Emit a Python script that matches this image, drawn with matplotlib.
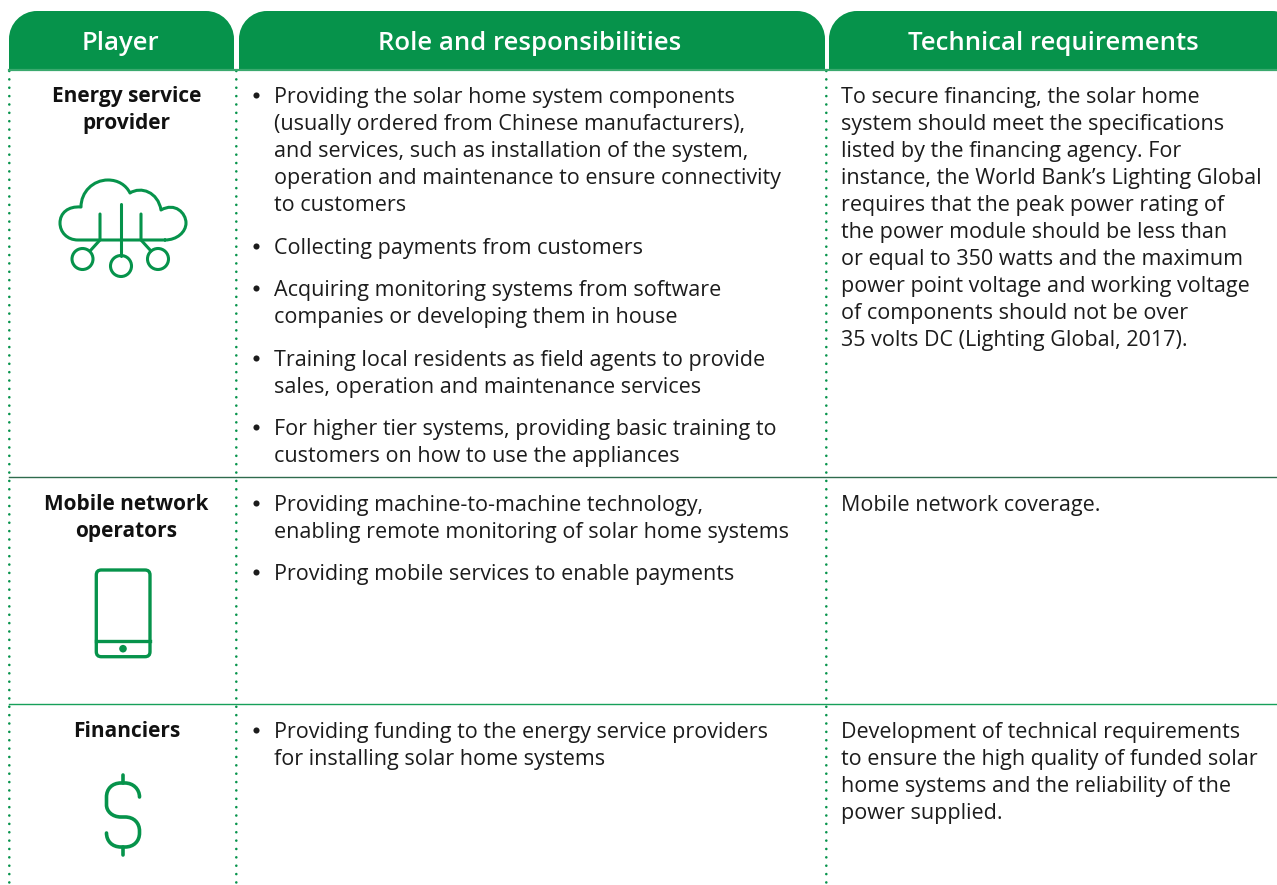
import numpy as np
import matplotlib
matplotlib.use('Agg')
import matplotlib.pyplot as plt
from matplotlib.patches import PathPatch, Circle, FancyBboxPatch
from matplotlib.path import Path

GREEN = '#06934b'
DARK = '#1c1c1c'
FONT = 'Open Sans'
BODY_SIZE = 15.5
BOLD_SIZE = 15.0
HEAD_SIZE = 18.5

headers = ['Player', 'Role and responsibilities', 'Technical requirements']
header_x = [120, 530, 1053]

players = ['Energy service\nprovider', 'Mobile network\noperators', 'Financiers']
player_y = [95, 503, 730]

# each role: (first line y, lines)
roles = [
    (95, ['Providing the solar home system components',
          '(usually ordered from Chinese manufacturers),',
          'and services, such as installation of the system,',
          'operation and maintenance to ensure connectivity',
          'to customers']),
    (246, ['Collecting payments from customers']),
    (288, ['Acquiring monitoring systems from software',
           'companies or developing them in house']),
    (358, ['Training local residents as field agents to provide',
           'sales, operation and maintenance services']),
    (427, ['For higher tier systems, providing basic training to',
           'customers on how to use the appliances']),
    (503, ['Providing machine-to-machine technology,',
           'enabling remote monitoring of solar home systems']),
    (572, ['Providing mobile services to enable payments']),
    (730, ['Providing funding to the energy service providers',
           'for installing solar home systems']),
]

requirements = [
    (95, ['To secure financing, the solar home',
          'system should meet the specifications',
          'listed by the financing agency. For',
          'instance, the World Bank\u2019s Lighting Global',
          'requires that the peak power rating of',
          'the power module should be less than',
          'or equal to 350 watts and the maximum',
          'power point voltage and working voltage',
          'of components should not be over',
          '35 volts DC (Lighting Global, 2017).']),
    (503, ['Mobile network coverage.']),
    (730, ['Development of technical requirements',
           'to ensure the high quality of funded solar',
           'home systems and the reliability of the',
           'power supplied.']),
]

LINE_H = 27
W, H = 1277, 885


def header_shape(x0, x1, y0, y1, r):
    k = 0.55 * r
    verts = [(x0, y1), (x0, y0 + r), (x0, y0 + r - k), (x0 + r - k, y0), (x0 + r, y0),
             (x1 - r, y0), (x1 - r + k, y0), (x1, y0 + r - k), (x1, y0 + r),
             (x1, y1), (x0, y1)]
    codes = [Path.MOVETO, Path.LINETO, Path.CURVE4, Path.CURVE4, Path.CURVE4,
             Path.LINETO, Path.CURVE4, Path.CURVE4, Path.CURVE4,
             Path.LINETO, Path.CLOSEPOLY]
    return PathPatch(Path(verts, codes), fc=GREEN, ec='none', zorder=2)


def stroke(ax, verts, codes, lw=2.2):
    ax.add_patch(PathPatch(Path(verts, codes), fc='none', ec=GREEN, lw=lw,
                           capstyle='round', joinstyle='round'))


fig = plt.figure(figsize=(12.77, 8.85), dpi=100)
ax = fig.add_axes([0, 0, 1, 1])
ax.set_xlim(0, W)
ax.set_ylim(H, 0)
ax.axis('off')

# header tabs
ax.add_patch(header_shape(9, 234, 11, 70, 28))
ax.add_patch(header_shape(239, 825, 11, 70, 28))
ax.add_patch(header_shape(829, 1300, 11, 70, 28))
for name, x in zip(headers, header_x):
    ax.text(x, 49.5, name, color='white', family=FONT, size=HEAD_SIZE, weight='semibold',
            ha='center', va='baseline', zorder=3)

# rules
ax.plot([9, W], [70, 70], color='#3aa96e', lw=1.6, zorder=3)
ax.plot([9, W], [477.3, 477.3], color='#2f6b4d', lw=1.0)
ax.plot([9, W], [704.3, 704.3], color='#17a05a', lw=1.0)

# dotted column lines
for x in [9.3, 236.3, 826.3]:
    ax.plot([x, x], [71, 885], color=GREEN, lw=1.9, linestyle=(0, (0.01, 3.16)),
            dash_capstyle='round', snap=False)

# text
for name, y in zip(players, player_y):
    for i, line in enumerate(name.split('\n')):
        ax.text(126.5, y + 7 + i * LINE_H, line, color='#111111', family=FONT,
                size=BOLD_SIZE, weight='bold', ha='center', va='baseline')

for y, lines in roles:
    ax.plot([256], [y], 'o', color=DARK, ms=4.4, mew=0)
    for i, line in enumerate(lines):
        ax.text(274, y + 8 + i * LINE_H, line, color=DARK, family=FONT, size=BODY_SIZE,
                va='baseline')

for y, lines in requirements:
    for i, line in enumerate(lines):
        ax.text(841, y + 8 + i * LINE_H, line, color=DARK, family=FONT, size=BODY_SIZE,
                va='baseline')

# cloud icon
M, L, C = Path.MOVETO, Path.LINETO, Path.CURVE4
cloud = [(165, 240), (78, 240), (67, 240), (60, 232), (60, 223), (60, 213), (68, 206), (81, 207),
         (81, 192), (93, 180), (108, 180), (118, 180), (126, 185), (130, 193),
         (141, 186), (158, 192), (161, 210), (175, 202), (186, 213), (186, 223),
         (186, 232), (177, 240), (165, 240)]
cloud_codes = [M, L, C, C, C, C, C, C, C, C, C, C, C, C, C, C, C, C, C, C, C, C, C]
stroke(ax, cloud, cloud_codes)
stems = [[(100, 214), (100, 240), (90, 251)], [(121, 204), (121, 256)], [(141, 214), (141, 240), (151, 251)]]
for s in stems:
    ax.plot(*zip(*s), color=GREEN, lw=2.2, solid_capstyle='round')
for cx, cy in [(82.5, 259), (121, 266), (158, 259)]:
    ax.add_patch(Circle((cx, cy), 10.5, fc='none', ec=GREEN, lw=2.2))

# phone icon
ax.add_patch(FancyBboxPatch((99.3, 573), 47.7, 80.7, boxstyle='round,pad=3,rounding_size=5',
                            fc='none', ec=GREEN, lw=2.4))
ax.plot([96, 150], [640.5, 640.5], color=GREEN, lw=2.4)
ax.add_patch(Circle((123, 648.7), 3.8, fc=GREEN, ec='none'))

# dollar icon
dollar = [(139.5, 797), (139.5, 789), (133, 783), (125, 783), (121, 783), (121, 783), (121, 783),
          (112, 783), (106.5, 789), (106.5, 797), (106.5, 805), (106.5, 805), (106.5, 805),
          (106.5, 811), (112, 817), (121, 817), (125, 817), (125, 817), (125, 817),
          (134, 817), (139.5, 823), (139.5, 831), (139.5, 833), (139.5, 833), (139.5, 833),
          (139.5, 841), (134, 847), (125, 847), (121, 847), (121, 847), (121, 847),
          (112, 847), (106.5, 841), (106.5, 833)]
stroke(ax, dollar, [M] + [C] * (len(dollar) - 1), lw=2.6)
ax.plot([123, 123], [775, 783], color=GREEN, lw=2.6, solid_capstyle='round')
ax.plot([123, 123], [847, 855], color=GREEN, lw=2.6, solid_capstyle='round')

fig.savefig('out.png', dpi=100)
